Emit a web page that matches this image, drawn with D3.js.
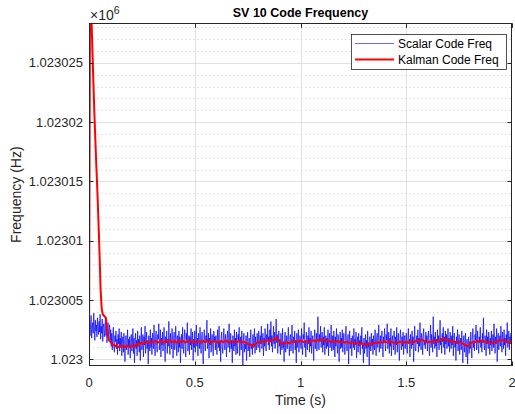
<!DOCTYPE html>
<html>
<head>
<meta charset="utf-8">
<script src="https://cdn.jsdelivr.net/npm/d3@7"></script>
<style>
  html, body { margin: 0; padding: 0; background: #fff; }
  svg { display: block; font-family: "Liberation Sans", Arial, Helvetica, sans-serif; }
</style>
</head>
<body>
<svg id="chart" width="515" height="414"></svg>
<script>
// Code-frequency tracking of SV 10: scalar loop vs. Kalman filter estimate.
const chartTitle = "SV 10 Code Frequency";
const xLabel = "Time (s)";
const yLabel = "Frequency (Hz)";
const seriesNames = ["Scalar Code Freq", "Kalman Code Freq"];

const baseFreqHz = 1023000;       // values below are offsets from this, in Hz
const scalarPeriodS = 0.0025;     // scalar loop output interval
const kalmanPeriodS = 0.005;      // Kalman filter output interval

const scalarOffsetHz = [
  2.6, 3.4, 2.0, 2.9, 3.7, 1.8, 2.5, 3.1, 2.2, 3.9, 2.7, 1.6, 3.3, 2.4, 2.9, 1.9, 3.5, 2.6, 2.1, 3.2,
  2.3, 3.8, 1.7, 2.8, 2.2, 3.4, 1.5, 2.7, 3.0, 1.9, 2.5, 3.6, 2.0, 2.8, 1.4, 2.6, 3.1, 1.8, 2.4, 2.9,
  1.6, 2.5, 1.1, 2.2, 0.8, 1.9, 2.7, 1.2, 0.6, 2.0, 1.5, 2.4, 0.9, 1.7, 0.4, 2.1, 1.3, 2.6, 0.7, 1.8,
  1.0, 2.3, 0.3, 1.4, 1.9, 0.6, 2.2, 1.1, -0.2, 1.6, 2.0, 0.8, 1.3, 2.5, 0.4, 1.7, 1.0, 1.9, 0.1, 1.5,
  2.1, 0.7, 1.2, 2.6, 0.5, 1.8, -0.3, 1.4, 2.2, 0.9, 1.6, 0.3, 2.4, 1.1, 1.7, 0.6, 2.0, -0.1, 1.3, 2.7,
  0.8, 1.5, 2.1, 0.2, 1.9, 1.2, 2.8, 0.5, 1.4, 2.3, 0.9, 1.6, -0.4, 2.0, 1.3, 0.7, 2.5, 1.0, 1.8, 0.4,
  2.2, 1.5, 0.9, 2.9, 1.3, 0.3, 1.9, 2.4, 1.1, 0.6, 2.1, 1.7, 3.0, 0.8, 1.4, 2.5, 0.2, 1.8, 1.2, 2.3,
  0.7, 1.6, 2.7, 1.0, -0.2, 1.9, 1.4, 2.4, 0.5, 1.7, 1.1, 3.2, 1.5, 0.4, 2.2, 1.3, 0.9, 2.6, 1.8, 0.1,
  1.6, 2.3, 0.8, 1.2, 2.8, 1.5, 0.3, 2.0, 1.7, 0.6, 2.4, 1.0, 1.9, -0.3, 1.4, 2.1, 0.9, 2.7, 1.3, 0.5,
  1.8, 2.5, 1.1, 0.2, 2.2, 1.6, 3.1, 0.7, 1.3, 2.0, 0.4, 1.9, 1.2, 2.6, 0.8, 1.5, 2.3, -0.1, 1.7, 1.0,
  2.4, 0.6, 1.4, 2.9, 1.1, 1.8, 0.3, 2.2, 1.5, 0.9, 2.7, 1.2, 0.5, 1.9, 2.3, 1.0, -0.4, 1.6, 2.5, 1.3,
  0.7, 2.0, 1.5, 3.3, 0.9, 1.4, 2.2, 0.1, 1.8, 1.2, 2.6, 0.6, 1.7, 2.1, 1.0, 0.3, 2.4, 1.5, 1.9, 0.8,
  2.0, 1.3, 0.4, 2.5, 1.6, 1.0, 2.8, 0.7, 1.5, -0.2, 1.9, 2.3, 1.1, 0.5, 1.7, 2.6, 1.2, 0.8, 2.1, 1.4,
  0.2, 1.8, 2.4, 1.0, 1.5, 3.0, 0.6, 1.3, 2.2, 0.9, 1.6, -0.3, 2.0, 1.4, 0.7, 2.5, 1.1, 1.8, 0.4, 2.3,
  1.2, 0.5, 2.1, 1.6, 2.7, 0.3, 1.4, 1.9, 0.8, 2.4, 1.0, -0.5, 1.7, 2.2, 0.6, 1.3, 0.9, 2.0, -0.1, 1.5,
  2.3, 0.7, 1.1, 1.8, 0.2, 1.6, 2.5, 0.9, 1.3, 0.4, 2.1, 1.0, 1.7, 2.6, 0.5, 1.9, 1.2, 0.8, 2.2, 1.4,
  1.0, 2.4, 1.6, 0.6, 2.0, 1.3, 2.8, 0.9, 1.5, 2.2, 0.3, 1.8, 1.1, 2.6, 1.4, 0.7, 2.1, 1.7, 3.0, 1.2,
  1.9, 0.8, 2.5, 1.5, 3.2, 1.1, 2.0, 0.6, 1.7, 2.8, 1.3, 2.3, 0.9, 1.8, 3.4, 1.4, 2.1, 0.5, 1.6, 2.4,
  1.1, 1.7, 0.4, 2.2, 1.3, 0.8, 2.6, 1.0, 1.5, -0.2, 1.9, 2.3, 0.6, 1.4, 2.0, 0.9, 1.6, 2.7, 1.2, 0.3,
  1.8, 2.1, 0.7, 1.5, 2.9, 1.2, 0.5, 1.9, 1.4, 2.4, 0.8, 1.6, -0.3, 2.2, 1.0, 1.7, 2.5, 0.6, 1.3, 2.0,
  1.5, 0.9, 2.6, 1.2, 0.4, 2.1, 1.7, 3.1, 1.0, 1.6, 0.2, 2.3, 1.4, 0.8, 2.0, 1.3, 2.7, 0.6, 1.8, 1.1,
  2.4, 0.5, 1.6, 2.0, 1.2, -0.1, 1.9, 2.5, 0.9, 1.4, 2.2, 0.7, 1.7, 3.6, 1.3, 0.8, 2.1, 1.5, 2.8, 1.0,
  1.6, 2.3, 0.6, 1.9, 1.2, 2.7, 0.4, 1.5, 2.0, 0.9, 1.8, 1.1, 2.5, 0.3, 1.7, 2.2, 1.0, 1.4, 2.9, 0.7,
  1.3, 2.0, 0.8, 2.4, 1.6, 0.2, 1.9, 1.1, 2.6, 1.4, 0.5, 2.1, 1.7, -0.2, 1.2, 2.3, 0.9, 1.8, 1.0, 2.5,
  0.6, 1.5, 2.2, 1.1, 0.4, 1.9, 2.8, 1.3, 0.7, 1.6, 2.1, -0.4, 1.4, 2.4, 0.9, 1.2, 1.8, 0.3, 2.0, 1.5,
  1.0, 2.6, 0.8, 1.7, 1.2, 2.3, 0.1, 1.5, 1.9, 0.6, 2.2, 1.1, 1.6, 0.4, 2.0, 1.3, 2.7, 0.9, 1.4, -0.3,
  1.8, 0.5, 1.2, 2.1, 0.9, 1.6, 0.2, 2.4, 1.0, 1.4, -0.5, 1.9, 1.3, 0.7, 2.2, 1.1, 1.7, 0.4, 2.0, 1.2,
  0.8, 2.5, 1.4, 0.3, 1.8, 2.2, 1.0, 1.6, 2.9, 0.6, 1.3, 2.0, 0.9, 1.7, 2.4, 1.1, 0.2, 1.9, 1.5, 2.6,
  1.2, 0.7, 2.1, 1.6, 3.0, 0.9, 1.4, 2.3, 0.5, 1.8, 1.1, 2.6, 0.3, 1.5, 2.0, 1.3, 0.8, 2.4, 1.7, 0.4,
  1.9, 1.2, 2.7, 0.6, 1.5, 2.2, 1.0, -0.1, 1.7, 2.5, 1.3, 0.8, 1.9, 1.1, 2.3, 0.4, 1.6, 2.0, 0.9, 1.4,
  2.2, 1.0, 0.5, 1.8, 2.6, 1.3, 1.7, 0.2, 2.1, 1.5, 0.9, 2.4, 1.2, 1.9, -0.2, 1.4, 2.8, 1.1, 0.7, 1.6,
  2.0, 1.3, 2.5, 0.6, 1.8, 1.1, 3.1, 1.5, 0.8, 2.2, 1.7, 0.4, 1.9, 2.6, 1.2, 1.6, 0.9, 2.3, 1.4, 2.0,
  0.7, 1.8, 2.4, 1.2, 0.3, 1.6, 2.9, 1.0, 2.1, 1.5, 0.6, 3.6, 1.3, 1.9, 0.9, 2.3, 1.1, 1.7, 0.2, 2.5,
  1.4, 2.0, 0.8, 1.6, 3.3, 1.2, 1.8, 0.5, 2.2, 1.5, 2.7, 1.0, 1.9, 0.4, 2.4, 1.3, 2.1, 0.9, 1.7, 2.6,
  1.1, 1.8, 0.6, 2.3, 1.5, 0.9, 2.0, 1.2, 2.8, 0.3, 1.6, 2.2, 1.0, 1.4, -0.1, 1.9, 1.3, 2.5, 0.7, 1.5,
  2.1, 0.4, 1.3, 1.8, 0.8, 2.4, 1.1, -0.3, 1.6, 2.0, 0.6, 1.4, 2.2, 0.2, 1.0, 1.7, -0.4, 1.2, 1.9, 0.5,
  1.5, 0.9, 2.3, 1.2, 0.1, 1.8, 2.6, 1.0, 1.4, 0.7, 2.1, 1.6, 2.9, 0.8, 1.3, 2.4, 1.1, 0.5, 1.9, 1.5,
  2.7, 1.0, 1.6, 0.6, 2.2, 1.4, 3.5, 1.2, 0.8, 2.0, 1.7, 0.3, 2.5, 1.3, 1.9, 0.9, 2.3, 1.5, 0.4, 1.8,
  1.2, 2.4, 0.7, 1.6, 2.1, 1.0, 3.0, 1.4, 0.5, 1.9, 1.3, 2.6, -0.2, 1.7, 2.2, 0.8, 1.5, 2.0, 1.1, 2.8,
  1.4, 0.6, 2.3, 1.7, 0.9, 2.5, 1.2, 1.8, 0.3, 2.1, 1.5, 3.1, 1.0, 1.6, 2.4, 0.8, 1.9, 1.3, 2.2, 1.6,
  1.4
];

const kalmanOffsetHz = [
  0.0, 33, 30, 26.7, 23.8, 21, 18.5, 16.2, 14, 11.5, 8.8, 5.8, 4.3, 3.8, 3.7, 3.6, 3.5, 2.6, 1.9, 1.6,
  1.5, 1.4, 1.3, 1.2, 1.15, 1.1, 1.2, 1.1, 1.05, 1.1, 1.2, 1.15, 1.1, 1.0, 1.05, 1.1, 1.15, 1.1, 1.05, 1.1,
  1.1, 1.15, 1.05, 1.1, 1.2, 1.3, 1.25, 1.2, 1.35, 1.4, 1.35, 1.3, 1.4, 1.45, 1.5, 1.4, 1.45, 1.5, 1.45, 1.4,
  1.5, 1.45, 1.5, 1.55, 1.5, 1.4, 1.45, 1.5, 1.6, 1.5, 1.45, 1.5, 1.4, 1.45, 1.55, 1.5, 1.6, 1.55, 1.45, 1.5,
  1.5, 1.55, 1.45, 1.4, 1.5, 1.6, 1.5, 1.45, 1.5, 1.55, 1.5, 1.4, 1.45, 1.5, 1.55, 1.6, 1.5, 1.45, 1.4, 1.5,
  1.5, 1.45, 1.5, 1.55, 1.5, 1.45, 1.4, 1.5, 1.55, 1.5, 1.45, 1.5, 1.6, 1.5, 1.45, 1.4, 1.45, 1.5, 1.55, 1.5,
  1.45, 1.5, 1.4, 1.45, 1.5, 1.55, 1.5, 1.45, 1.5, 1.6, 1.55, 1.5, 1.45, 1.4, 1.5, 1.55, 1.5, 1.45, 1.5, 1.5,
  1.45, 1.5, 1.55, 1.5, 1.4, 1.45, 1.5, 1.45, 1.4, 1.35, 1.3, 1.25, 1.3, 1.2, 1.15, 1.1, 1.15, 1.25, 1.35, 1.4,
  1.45, 1.5, 1.45, 1.5, 1.55, 1.5, 1.45, 1.5, 1.55, 1.6, 1.55, 1.5, 1.6, 1.65, 1.6, 1.7, 1.75, 1.7, 1.8, 1.65,
  1.5, 1.4, 1.3, 1.35, 1.3, 1.35, 1.4, 1.45, 1.4, 1.35, 1.4, 1.45, 1.5, 1.45, 1.5, 1.55, 1.5, 1.45, 1.5, 1.55,
  1.6, 1.55, 1.5, 1.45, 1.5, 1.55, 1.5, 1.45, 1.4, 1.45, 1.5, 1.55, 1.6, 1.55, 1.5, 1.6, 1.65, 1.6, 1.55, 1.6,
  1.65, 1.7, 1.6, 1.55, 1.5, 1.55, 1.6, 1.55, 1.5, 1.45, 1.5, 1.55, 1.5, 1.45, 1.5, 1.55, 1.5, 1.45, 1.4, 1.45,
  1.5, 1.45, 1.4, 1.45, 1.5, 1.45, 1.4, 1.35, 1.4, 1.45, 1.4, 1.35, 1.3, 1.35, 1.4, 1.35, 1.3, 1.35, 1.3, 1.25,
  1.3, 1.25, 1.2, 1.25, 1.3, 1.35, 1.3, 1.25, 1.3, 1.35, 1.4, 1.35, 1.4, 1.45, 1.4, 1.45, 1.5, 1.45, 1.4, 1.45,
  1.5, 1.45, 1.4, 1.45, 1.5, 1.55, 1.5, 1.45, 1.4, 1.35, 1.3, 1.35, 1.4, 1.45, 1.5, 1.45, 1.4, 1.35, 1.4, 1.45,
  1.5, 1.45, 1.4, 1.45, 1.5, 1.45, 1.4, 1.45, 1.5, 1.55, 1.6, 1.55, 1.5, 1.55, 1.6, 1.65, 1.6, 1.55, 1.5, 1.45,
  1.4, 1.45, 1.5, 1.45, 1.5, 1.55, 1.5, 1.45, 1.5, 1.55, 1.6, 1.55, 1.6, 1.65, 1.7, 1.75, 1.7, 1.65, 1.6, 1.65,
  1.6, 1.55, 1.5, 1.55, 1.5, 1.45, 1.5, 1.45, 1.4, 1.45, 1.5, 1.45, 1.4, 1.35, 1.3, 1.25, 1.2, 1.15, 1.1, 1.15,
  1.25, 1.35, 1.4, 1.45, 1.5, 1.45, 1.5, 1.55, 1.5, 1.45, 1.5, 1.55, 1.6, 1.55, 1.5, 1.45, 1.4, 1.45, 1.5, 1.45,
  1.4, 1.35, 1.4, 1.45, 1.5, 1.45, 1.5, 1.55, 1.6, 1.55, 1.6, 1.65, 1.6, 1.55, 1.5, 1.45, 1.4, 1.45, 1.5, 1.45,
  1.4
];

const xDomain = [0, 2];
const yDomainHz = [1022999.44, 1023028.33];
const xTicks = [0, 0.5, 1, 1.5, 2];
const xTickLabels = ["0", "0.5", "1", "1.5", "2"];
const yTicksHz = [1023000, 1023005, 1023010, 1023015, 1023020, 1023025];
const yTickLabels = ["1.023", "1.023005", "1.02301", "1.023015", "1.02302", "1.023025"];
const yMinorStepHz = 1;
const yExponentBase = "\u00d710";
const yExponent = "6";

// ---- layout ----
const W = 515, H = 414;
const plot = { left: 89, right: 512, top: 23.3, bottom: 366 };
const ink = "#262626";

const svg = d3.select("#chart");
const x = d3.scaleLinear().domain(xDomain).range([plot.left, plot.right]);
const y = d3.scaleLinear().domain(yDomainHz).range([plot.bottom, plot.top]);

svg.append("rect").attr("width", W).attr("height", H).attr("fill", "#fff");

// minor horizontal grid (dotted, every 1 Hz)
const minorY = d3.range(Math.ceil(yDomainHz[0]), yDomainHz[1], yMinorStepHz)
  .filter(v => !yTicksHz.includes(v));
svg.append("g").selectAll("line").data(minorY).join("line")
  .attr("x1", plot.left).attr("x2", plot.right)
  .attr("y1", d => Math.round(y(d)) + 0.5).attr("y2", d => Math.round(y(d)) + 0.5)
  .attr("stroke", "#d2d2d2").attr("stroke-width", 0.8)
  .attr("stroke-dasharray", "1.5,2.5");

// major grid
const grid = svg.append("g");
grid.selectAll("line.gy").data(yTicksHz).join("line").attr("class", "gy")
  .attr("x1", plot.left).attr("x2", plot.right)
  .attr("y1", d => Math.round(y(d)) + 0.5).attr("y2", d => Math.round(y(d)) + 0.5)
  .attr("stroke", "#e0e0e0").attr("stroke-width", 1);
grid.selectAll("line.gx").data(xTicks.filter(v => v > xDomain[0] && v < xDomain[1])).join("line").attr("class", "gx")
  .attr("y1", plot.top).attr("y2", plot.bottom)
  .attr("x1", d => Math.round(x(d)) + 0.5).attr("x2", d => Math.round(x(d)) + 0.5)
  .attr("stroke", "#e0e0e0").attr("stroke-width", 1);

// clip for data
svg.append("clipPath").attr("id", "plotClip").append("rect")
  .attr("x", plot.left).attr("y", plot.top)
  .attr("width", plot.right - plot.left).attr("height", plot.bottom - plot.top);

const toPoints = (arr, dt) => arr.map((v, i) => [i * dt, baseFreqHz + v]);
const line = d3.line().x(d => x(d[0])).y(d => y(d[1]));

const data = svg.append("g").attr("clip-path", "url(#plotClip)");
data.append("path").datum(toPoints(scalarOffsetHz, scalarPeriodS))
  .attr("d", line).attr("fill", "none")
  .attr("stroke", "#0000ff").attr("stroke-width", 0.7).attr("stroke-linejoin", "round");
data.append("path").datum(toPoints(kalmanOffsetHz, kalmanPeriodS))
  .attr("d", line).attr("fill", "none")
  .attr("stroke", "#ff0000").attr("stroke-width", 2).attr("stroke-linejoin", "round");

// axes (box with ticks on all four sides)
const tickLen = 4.5;
const axes = svg.append("g").attr("stroke", ink).attr("stroke-width", 1).attr("fill", "none");
axes.append("rect")
  .attr("x", plot.left + 0.5).attr("y", Math.round(plot.top) + 0.5)
  .attr("width", plot.right - plot.left - 1).attr("height", plot.bottom - Math.round(plot.top) - 1);

xTicks.forEach(v => {
  const px = Math.round(x(v)) + 0.5;
  axes.append("line").attr("x1", px).attr("x2", px).attr("y1", plot.bottom).attr("y2", plot.bottom - tickLen);
  axes.append("line").attr("x1", px).attr("x2", px).attr("y1", plot.top).attr("y2", plot.top + tickLen);
});
yTicksHz.forEach(v => {
  const py = Math.round(y(v)) + 0.5;
  axes.append("line").attr("x1", plot.left).attr("x2", plot.left + tickLen).attr("y1", py).attr("y2", py);
  axes.append("line").attr("x1", plot.right).attr("x2", plot.right - tickLen).attr("y1", py).attr("y2", py);
});

// tick labels
svg.append("g").selectAll("text").data(xTicks).join("text")
  .attr("x", d => x(d)).attr("y", plot.bottom + 21)
  .attr("text-anchor", "middle").attr("font-size", 13).attr("fill", ink)
  .text((d, i) => xTickLabels[i]);
svg.append("g").selectAll("text").data(yTicksHz).join("text")
  .attr("x", plot.left - 6).attr("y", d => y(d) + 4.5)
  .attr("text-anchor", "end").attr("font-size", 13).attr("fill", ink)
  .text((d, i) => yTickLabels[i]);

// exponent marker
const expo = svg.append("text").attr("x", plot.left + 1).attr("y", 20)
  .attr("font-size", 14).attr("fill", ink);
expo.append("tspan").text(yExponentBase);
expo.append("tspan").attr("font-size", 10.5).attr("dy", -6).text(yExponent);

// title and labels
svg.append("text").attr("x", (plot.left + plot.right) / 2).attr("y", 17)
  .attr("text-anchor", "middle").attr("font-size", 12.5).attr("font-weight", "bold").attr("fill", "#000")
  .text(chartTitle);
svg.append("text").attr("x", (plot.left + plot.right) / 2).attr("y", 405)
  .attr("text-anchor", "middle").attr("font-size", 14).attr("fill", ink)
  .text(xLabel);
svg.append("text")
  .attr("transform", `translate(21,${(plot.top + plot.bottom) / 2}) rotate(-90)`)
  .attr("text-anchor", "middle").attr("font-size", 14).attr("fill", ink)
  .text(yLabel);

// legend
const legend = { x: 351, y: 34, w: 155, h: 35 };
const lg = svg.append("g");
lg.append("rect").attr("x", legend.x + 0.5).attr("y", legend.y + 0.5)
  .attr("width", legend.w).attr("height", legend.h)
  .attr("fill", "#fff").attr("stroke", ink).attr("stroke-width", 0.8);
const legendColors = ["#6a6aff", "#ff0000"];
const legendWidths = [1, 2];
seriesNames.forEach((name, i) => {
  const ly = legend.y + 9.5 + i * 16;
  lg.append("line").attr("x1", legend.x + 4).attr("x2", legend.x + 43)
    .attr("y1", ly).attr("y2", ly)
    .attr("stroke", legendColors[i]).attr("stroke-width", legendWidths[i]);
  lg.append("text").attr("x", legend.x + 47).attr("y", ly + 4.3)
    .attr("font-size", 12).attr("fill", "#000").text(name);
});
</script>
</body>
</html>
